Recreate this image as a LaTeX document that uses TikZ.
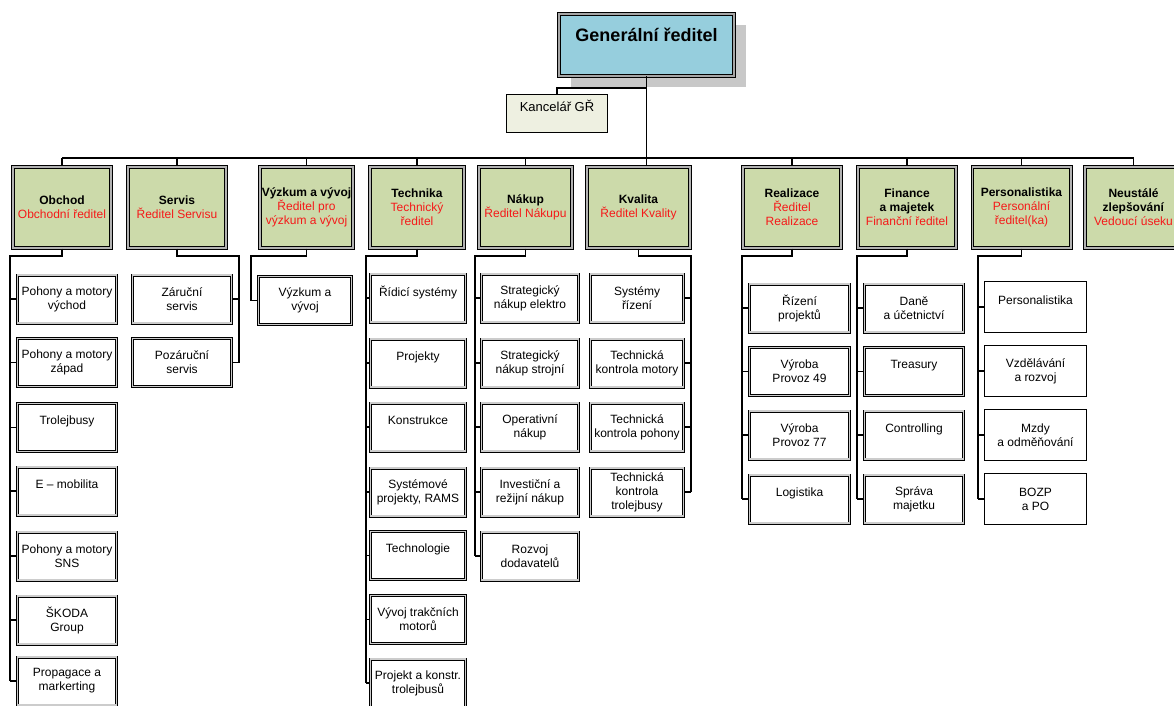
\documentclass[tikz,border=0pt]{standalone}
\usepackage{fontspec}
\setmainfont{Liberation Sans}
\usetikzlibrary{shadows}
\definecolor{grblue}{RGB}{150,206,221}
\definecolor{divgreen}{RGB}{204,218,170}
\definecolor{kancbeige}{RGB}{238,240,225}
\definecolor{shadowgray}{RGB}{200,200,200}
\definecolor{headred}{RGB}{245,25,25}
\newcommand{\rl}[1]{\textcolor{headred}{#1}}

\begin{document}
\begin{tikzpicture}[x=1pt, y=-1pt,
  gr/.style={draw, line width=1pt, double=gray!70, double distance=2pt,
             fill=grblue, minimum width=175, minimum height=62, align=center,
             inner sep=2pt, font=\fontsize{18}{21}\selectfont\bfseries,
             drop shadow={shadow xshift=12pt, shadow yshift=-11pt,
                          fill=shadowgray, opacity=1}},
  kanc/.style={draw, line width=1.3pt, fill=kancbeige, minimum width=100.7,
               minimum height=37.7, align=center, inner sep=1pt,
               font=\fontsize{13}{15}\selectfont},
  div/.style={draw, line width=1pt, double=gray!60, double distance=1.6pt,
              fill=divgreen, minimum height=81.4, align=center, inner sep=1pt,
              font=\fontsize{12}{14}\selectfont},
  unit/.style={draw, line width=0.8pt, double=gray!40, double distance=1.4pt,
               fill=white, minimum height=48, align=center, inner sep=2pt,
               font=\fontsize{12}{14}\selectfont},
  unitsingle/.style={draw, line width=1.4pt, fill=white, minimum width=101.6,
                     minimum height=50.6, align=center, inner sep=2pt,
                     font=\fontsize{12}{14}\selectfont},
  conn/.style={draw, line width=1.1pt}
]
  \useasboundingbox (0,0) rectangle (1174,706);

  % Top
  \node[gr] (gr) at (646.5,45) {Generální ředitel\\\mbox{}};
  \node[kanc] (kanc) at (557,113.5) {Kancelář GŘ\\\mbox{}};
  \coordinate (kancY) at (0,88);
  \coordinate (busY) at (0,158);

  % Divisions
  \foreach \n/\x/\w/\txt in {
    obch/62/98.4/{\textbf{Obchod}\\\rl{Obchodní ředitel}},
    serv/177/98.4/{\textbf{Servis}\\\rl{Ředitel Servisu}},
    vyzk/306.5/93.4/{\textbf{Výzkum a vývoj}\\\rl{Ředitel pro}\\\rl{výzkum a vývoj}},
    tech/417/94.4/{\textbf{Technika}\\\rl{Technický}\\\rl{ředitel}},
    nak/525.5/93.4/{\textbf{Nákup}\\\rl{Ředitel Nákupu}},
    kval/638.5/103.4/{\textbf{Kvalita}\\\rl{Ředitel Kvality}},
    real/792/98.4/{\textbf{Realizace}\\\rl{Ředitel}\\\rl{Realizace}},
    fin/907/98.4/{\textbf{Finance}\\\textbf{a majetek}\\\rl{Finanční ředitel}},
    pers/1021.5/98.4/{\textbf{Personalistika}\\\rl{Personální}\\\rl{ředitel(ka)}},
    neus/1133.5/97.4/{\textbf{Neustálé}\\\textbf{zlepšování}\\\rl{Vedoucí úseku}}} {
    \node[div, minimum width=\w] (\n) at (\x,207.5) {\txt};
  }

  \draw[conn] (gr.south) -- (gr.south |- kval.north);
  \draw[conn] (gr.south |- kancY) -| (kanc.north);
  \draw[conn] (obch.north |- busY) -- (neus.north |- busY);
  \foreach \n in {obch,serv,vyzk,tech,nak,real,fin,pers,neus} {
    \draw[conn] (\n.north |- busY) -- (\n.north);
  }

  % Obchod
  \coordinate (obchT) at (10,256);
  \foreach \i/\y/\txt in {1/299/{Pohony a motory\\východ},
      2/362.5/{Pohony a motory\\západ}, 3/427.5/{Trolejbusy\\\mbox{}},
      4/491/{E – mobilita\\\mbox{}}, 5/556/{Pohony a motory\\SNS},
      6/620/{ŠKODA\\Group}, 7/681/{Propagace a\\markerting}} {
    \node[unit, minimum width=99] (obch\i) at (67,\y) {\txt};
    \draw[conn] (obchT |- obch\i.west) -- (obch\i.west);
  }
  \draw[conn] (obch.south) |- (obchT) -- (obchT |- obch7.west);

  % Servis
  \coordinate (servT) at (239,256);
  \foreach \i/\y/\txt in {1/299/{Záruční\\servis}, 2/362.5/{Pozáruční\\servis}} {
    \node[unit, minimum width=99] (serv\i) at (182,\y) {\txt};
    \draw[conn] (servT |- serv\i.east) -- (serv\i.east);
  }
  \draw[conn] (serv.south) |- (servT) -- (servT |- serv2.east);

  % Vyzkum
  \coordinate (vyzkT) at (251,256);
  \node[unit, minimum width=93] (vyzk1) at (305,300.5) {Výzkum a\\vývoj};
  \draw[conn] (vyzk.south) |- (vyzkT) |- (vyzk1.west);

  % Technika
  \coordinate (techT) at (366,256);
  \foreach \i/\y/\txt in {1/298/{Řídicí systémy\\\mbox{}}, 2/363/{Projekty\\\mbox{}},
      3/427/{Konstrukce\\\mbox{}}, 4/492/{Systémové\\projekty, RAMS},
      5/555.5/{Technologie\\\mbox{}}, 6/619.5/{Vývoj trakčních\\motorů},
      7/683/{Projekt a konstr.\\trolejbusů}} {
    \node[unit, minimum width=95] (tech\i) at (418,\y) {\txt};
    \draw[conn] (techT |- tech\i.west) -- (tech\i.west);
  }
  \draw[conn] (tech.south) |- (techT) -- (techT |- tech7.west);

  % Nakup
  \coordinate (nakT) at (475,256);
  \foreach \i/\y/\txt in {1/298/{Strategický\\nákup elektro},
      2/363/{Strategický\\nákup strojní}, 3/427/{Operativní\\nákup},
      4/492/{Investiční a\\režijní nákup}, 5/556/{Rozvoj\\dodavatelů}} {
    \node[unit, minimum width=97] (nak\i) at (530,\y) {\txt};
    \draw[conn] (nakT |- nak\i.west) -- (nak\i.west);
  }
  \draw[conn] (nak.south) |- (nakT) -- (nakT |- nak5.west);

  % Kvalita
  \coordinate (kvalT) at (691,256);
  \foreach \i/\y/\txt in {1/298/{Systémy\\řízení}, 2/363/{Technická\\kontrola motory},
      3/427/{Technická\\kontrola pohony}, 4/492/{Technická\\kontrola\\trolejbusy}} {
    \node[unit, minimum width=93] (kval\i) at (637,\y) {\txt};
    \draw[conn] (kvalT |- kval\i.east) -- (kval\i.east);
  }
  \draw[conn] (kval.south) |- (kvalT) -- (kvalT |- kval4.east);

  % Realizace
  \coordinate (realT) at (742,256);
  \foreach \i/\y/\txt in {1/308/{Řízení\\projektů}, 2/371.5/{Výroba\\Provoz 49},
      3/435/{Výroba\\Provoz 77}, 4/499/{Logistika\\\mbox{}}} {
    \node[unit, minimum width=100] (real\i) at (799.5,\y) {\txt};
    \draw[conn] (realT |- real\i.west) -- (real\i.west);
  }
  \draw[conn] (real.south) |- (realT) -- (realT |- real4.west);

  % Finance
  \coordinate (finT) at (857,256);
  \foreach \i/\y/\txt in {1/308/{Daně\\a účetnictví}, 2/371.5/{Treasury\\\mbox{}},
      3/435/{Controlling\\\mbox{}}, 4/499/{Správa\\majetku}} {
    \node[unit, minimum width=99] (fin\i) at (914,\y) {\txt};
    \draw[conn] (finT |- fin\i.west) -- (fin\i.west);
  }
  \draw[conn] (fin.south) |- (finT) -- (finT |- fin4.west);

  % Personalistika
  \coordinate (persT) at (978,256);
  \foreach \i/\y/\txt in {1/307/{Personalistika\\\mbox{}}, 2/371/{Vzdělávání\\a rozvoj},
      3/435/{Mzdy\\a odměňování}, 4/499/{BOZP\\a PO}} {
    \node[unitsingle] (pers\i) at (1035.5,\y) {\txt};
    \draw[conn] (persT |- pers\i.west) -- (pers\i.west);
  }
  \draw[conn] (pers.south) |- (persT) -- (persT |- pers4.west);
\end{tikzpicture}
\end{document}
